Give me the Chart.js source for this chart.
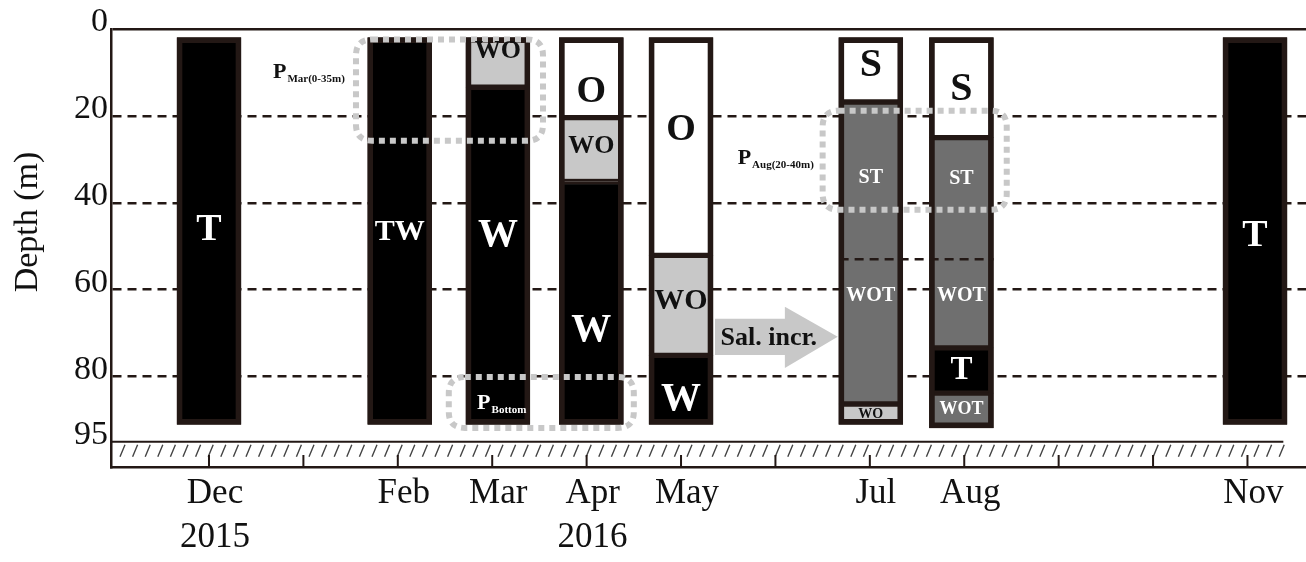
<!DOCTYPE html>
<html>
<head>
<meta charset="utf-8">
<script src="https://cdn.jsdelivr.net/npm/chart.js@4.4.1/dist/chart.umd.min.js"></script>
<style>
  html, body { margin: 0; padding: 0; background: #fff; }
  #wrap { position: relative; width: 1306px; height: 562px; }
</style>
</head>
<body>
<div id="wrap"><canvas id="chart"></canvas></div>
<script>
// ---- axis ticks ----
const monthLabels = [['Dec', '2015'], '', 'Feb', 'Mar', ['Apr', '2016'], 'May', '', 'Jul', 'Aug', '', '', 'Nov'];
const depthTicks = [0, 20, 40, 60, 80, 95];
const seafloorDepth = 95;

// ---- sampling campaigns (months after Dec 2015) ----
const sampleNames = ['Dec 2015', 'Feb 2016', 'Mar 2016', 'Apr 2016', 'May 2016', 'Jul 2016', 'Aug 2016', 'Nov 2016'];
const sampleTime = [0, 2.02, 3.06, 4.05, 5.0, 7.01, 7.97, 11.08];
const columnTop = [2, 2, 2, 2, 2, 2, 2, 2];
const columnBottom = [91, 91, 91, 91, 91, 91, 91.8, 91];

// ---- water-mass layers in each profile (depth in m) ----
const layerSample = [0, 1, 2, 2, 3, 3, 3, 4, 4, 4, 5, 5, 5, 6, 6, 6, 6, 7];
const layerFrom = [2, 2, 2, 13.4, 2, 20.4, 35.1, 2, 52.1, 75.1, 2, 16.8, 86.3, 2, 25.0, 73.4, 83.8, 2];
const layerTo = [91, 91, 13.4, 91, 20.4, 35.1, 91, 52.1, 75.1, 91, 16.8, 86.3, 91, 25.0, 73.4, 83.8, 91.8, 91];
const layerMass = ['T', 'TW', 'WO', 'W', 'O', 'WO', 'W', 'O', 'WO', 'W', 'S', 'WOT', 'WO', 'S', 'WOT', 'T', 'WOT', 'T'];

// ---- layer names written inside the profiles ----
const labelSample = [0, 1, 2, 2, 3, 3, 3, 4, 4, 4, 5, 5, 5, 5, 6, 6, 6, 6, 6, 7];
const labelText = ['T', 'TW', 'WO', 'W', 'O', 'WO', 'W', 'O', 'WO', 'W', 'S', 'ST', 'WOT', 'WO', 'S', 'ST', 'WOT', 'T', 'WOT', 'T'];
const labelDepth = [46.2, 46.7, 5.2, 47.6, 14.5, 27.1, 69.4, 23.4, 62.7, 85.3, 8.5, 34.2, 61.3, 88.6, 13.9, 34.4, 61.3, 78.6, 87.6, 47.6];

// ---- dashed boundary across Jul/Aug profiles ----
const boundaryDepth = 53;
const boundarySpan = [6.68, 8.31];

// ---- styling ----
const SERIF = "'Liberation Serif', 'Times New Roman', serif";
const INK = '#231815';
const massColor = { T: '#000000', TW: '#000000', W: '#000000', WO: '#c8c8c8', WOT: '#6f6f6f', ST: '#6f6f6f', O: '#ffffff', S: '#ffffff' };
const lightText = ['T', 'TW', 'W', 'ST', 'WOT'];
const labelSize = [38, 30, 26, 40, 38, 26, 40, 38, 30, 40, 40, 20, 20, 14, 40, 20, 20, 33, 18, 38];

// sampling-period outlines (month units, depth in m)
const periodBoxes = [
  { x0: 1.557, x1: 3.538, d0: 2.4, d1: 25.7 },
  { x0: 6.50, x1: 8.45, d0: 18.8, d1: 41.6 },
  { x0: 2.54, x1: 4.50, d0: 80.1, d1: 91.8 }
];
const periodLabels = [
  { x: 0.678, d: 11.2, sub: 'Mar(0-35m)', color: '#111' },
  { x: 5.60, d: 31.0, sub: 'Aug(20-40m)', color: '#111' },
  { x: 2.84, d: 87.4, sub: 'Bottom', color: '#fff' }
];
// salinity-increase arrow
const arrowShape = { x0: 5.36, x1: 6.10, tip: 6.66, bodyTop: 66.7, bodyBottom: 75.0, headTop: 63.9, headBottom: 78.0 };

const layerData = layerSample.map((s, i) => ({ x: sampleTime[s], y: [layerFrom[i], layerTo[i]] }));
const frameData = sampleTime.map((t, i) => ({ x: t, y: [columnTop[i], columnBottom[i]] }));

function roundedRect(ctx, x, y, w, h, r) {
  ctx.beginPath();
  ctx.moveTo(x + r, y);
  ctx.lineTo(x + w - r, y);
  ctx.quadraticCurveTo(x + w, y, x + w, y + r);
  ctx.lineTo(x + w, y + h - r);
  ctx.quadraticCurveTo(x + w, y + h, x + w - r, y + h);
  ctx.lineTo(x + r, y + h);
  ctx.quadraticCurveTo(x, y + h, x, y + h - r);
  ctx.lineTo(x, y + r);
  ctx.quadraticCurveTo(x, y, x + r, y);
  ctx.closePath();
}

const overlay = {
  id: 'overlay',
  afterDatasetsDraw(chart) {
    const { ctx, scales: { x, y } } = chart;
    const px = v => x.getPixelForValue(v);
    const py = d => y.getPixelForValue(d);
    ctx.save();

    // salinity arrow
    const a = arrowShape;
    ctx.fillStyle = '#c8c8c8';
    ctx.beginPath();
    ctx.moveTo(px(a.x0), py(a.bodyTop));
    ctx.lineTo(px(a.x1), py(a.bodyTop));
    ctx.lineTo(px(a.x1), py(a.headTop));
    ctx.lineTo(px(a.tip), py((a.bodyTop + a.bodyBottom) / 2));
    ctx.lineTo(px(a.x1), py(a.headBottom));
    ctx.lineTo(px(a.x1), py(a.bodyBottom));
    ctx.lineTo(px(a.x0), py(a.bodyBottom));
    ctx.closePath();
    ctx.fill();
    ctx.font = `bold 26px ${SERIF}`;
    ctx.fillStyle = '#111';
    ctx.textAlign = 'center';
    ctx.textBaseline = 'middle';
    ctx.fillText('Sal. incr.', px(5.93), py(71.1));

    // dotted outlines of the sampling periods
    ctx.strokeStyle = '#c8c8c8';
    ctx.lineWidth = 6;
    ctx.setLineDash([6, 5]);
    periodBoxes.forEach(b => {
      roundedRect(ctx, px(b.x0), py(b.d0), px(b.x1) - px(b.x0), py(b.d1) - py(b.d0), 16);
      ctx.stroke();
    });
    ctx.setLineDash([]);

    // layer names
    ctx.textAlign = 'center';
    ctx.textBaseline = 'middle';
    labelText.forEach((t, i) => {
      ctx.font = `bold ${labelSize[i]}px ${SERIF}`;
      ctx.fillStyle = lightText.includes(t) ? '#ffffff' : '#111111';
      ctx.fillText(t, px(sampleTime[labelSample[i]]), py(labelDepth[i]));
    });

    // period names with subscripts
    ctx.textAlign = 'left';
    ctx.textBaseline = 'alphabetic';
    periodLabels.forEach(p => {
      const bx = px(p.x), by = py(p.d);
      ctx.fillStyle = p.color;
      ctx.font = `bold 22px ${SERIF}`;
      ctx.fillText('P', bx, by);
      const w = ctx.measureText('P').width;
      ctx.font = `bold 11px ${SERIF}`;
      ctx.fillText(p.sub, bx + w + 1, by + 4);
    });
    ctx.restore();
  },
  afterDraw(chart) {
    const { ctx, chartArea: area, scales: { x, y } } = chart;
    const px = v => x.getPixelForValue(v);
    const y95 = y.getPixelForValue(seafloorDepth);
    const groundEnd = px(11.38);
    ctx.save();
    // sea floor with hatching
    ctx.strokeStyle = INK;
    ctx.lineWidth = 2;
    ctx.beginPath();
    ctx.moveTo(area.left, y95);
    ctx.lineTo(groundEnd, y95);
    ctx.stroke();
    ctx.strokeStyle = '#444';
    ctx.lineWidth = 1.4;
    ctx.beginPath();
    for (let hx = area.left + 9; hx <= groundEnd; hx += 12.6) {
      ctx.moveTo(hx, y95 + 15);
      ctx.lineTo(hx + 5, y95 + 3);
    }
    ctx.stroke();
    // month ticks pointing into the plot
    ctx.strokeStyle = INK;
    ctx.lineWidth = 2;
    ctx.beginPath();
    x.ticks.forEach(t => {
      const tx = px(t.value);
      ctx.moveTo(tx, area.bottom);
      ctx.lineTo(tx, area.bottom - 12);
    });
    ctx.stroke();
    // depth axis title
    ctx.translate(28, 222);
    ctx.rotate(-Math.PI / 2);
    ctx.font = `34px ${SERIF}`;
    ctx.fillStyle = '#111';
    ctx.textAlign = 'center';
    ctx.textBaseline = 'middle';
    ctx.fillText('Depth (m)', 0, 0);
    ctx.restore();
  }
};

new Chart(document.getElementById('chart'), {
  type: 'bar',
  data: {
    datasets: [
      {
        type: 'line',
        label: 'Boundary',
        data: boundarySpan.map(v => ({ x: v, y: boundaryDepth })),
        borderColor: INK,
        borderWidth: 2.5,
        borderDash: [9, 6],
        pointRadius: 0,
        tension: 0,
        order: 0
      },
      {
        label: 'Profile',
        data: frameData,
        backgroundColor: 'rgba(0,0,0,0)',
        borderColor: INK,
        borderWidth: 5,
        borderSkipped: false,
        barThickness: 64,
        grouped: false,
        order: 1
      },
      {
        label: 'Water masses',
        data: layerData,
        backgroundColor: layerMass.map(m => massColor[m]),
        borderColor: INK,
        borderWidth: 3,
        borderSkipped: false,
        barThickness: 64,
        grouped: false,
        order: 2
      }
    ]
  },
  options: {
    responsive: true,
    maintainAspectRatio: false,
    animation: false,
    events: [],
    layout: { padding: { top: 29, right: 0, bottom: 0, left: 0 } },
    plugins: { legend: { display: false }, tooltip: { enabled: false }, title: { display: false } },
    scales: {
      x: {
        type: 'linear',
        offset: false,
        min: -1.038,
        max: 11.62,
        afterBuildTicks: s => { s.ticks = monthLabels.map((_, i) => ({ value: i })); },
        afterFit: s => { s.height = 95; },
        grid: { display: false, drawTicks: false, offset: false },
        border: { display: true, color: INK, width: 2.5 },
        ticks: {
          autoSkip: false, maxRotation: 0, minRotation: 0, padding: 5, labelOffset: 6, color: '#111',
          font: { family: SERIF, size: 35, lineHeight: 1.257 },
          callback: v => monthLabels[Math.round(v)] ?? ''
        }
      },
      y: {
        type: 'linear',
        reverse: true,
        min: 0,
        max: 100.8,
        afterBuildTicks: s => { s.ticks = depthTicks.map(v => ({ value: v })); },
        afterFit: s => { s.width = 111; },
        grid: {
          drawTicks: false,
          lineWidth: 2.5,
          color: c => (c.tick && c.tick.value === seafloorDepth) ? 'rgba(0,0,0,0)' : INK
        },
        border: {
          display: true, color: INK, width: 2.5,
          dash: c => (c.tick && c.tick.value === 0) ? [] : [9, 6]
        },
        ticks: { padding: 3, labelOffset: -7, color: '#111', font: { family: SERIF, size: 34 } }
      }
    }
  },
  plugins: [overlay]
});
</script>
</body>
</html>
